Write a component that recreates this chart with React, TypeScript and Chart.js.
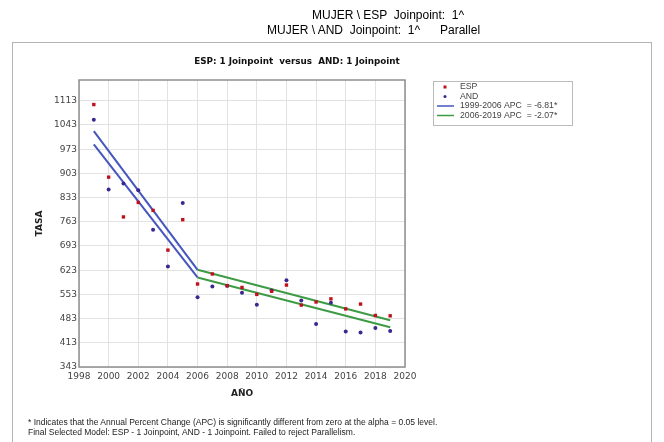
import { useEffect, useRef } from "react";
import { Chart, registerables } from "chart.js";

Chart.register(...registerables);

// Observed mortality rates per year
const YEARS = [1999, 2000, 2001, 2002, 2003, 2004, 2005, 2006, 2007, 2008, 2009, 2010, 2011, 2012, 2013, 2014, 2015, 2016, 2017, 2018, 2019];
const ESP_RATE = [1102, 892, 777, 819, 796, 681, 769, 583, 612, 578, 573, 553, 562, 580, 522, 531, 540, 511, 525, 492, 491];
const AND_RATE = [1058, 856, 874, 854, 740, 634, 817, 545, 576, 578, 558, 523, 564, 594, 535, 467, 529, 446, 443, 456, 447];

// Joinpoint model: start, joinpoint and end of each fitted trend
const JOIN_YEARS = [1999, 2006, 2019];
const ESP_FIT = [1025, 624, 478];
const AND_FIT = [987, 602, 458];

const X_TICKS = [1998, 2000, 2002, 2004, 2006, 2008, 2010, 2012, 2014, 2016, 2018, 2020];
const Y_TICKS = [343, 413, 483, 553, 623, 693, 763, 833, 903, 973, 1043, 1113];
const Y_MIN = 343;
const Y_MAX = 1173;

const SERIES_LABELS = ["ESP", "AND"];
const SEGMENT_LABELS = ["1999-2006 APC  = -6.81*", "2006-2019 APC  = -2.07*"];
const CHART_TITLE = "ESP: 1 Joinpoint  versus  AND: 1 Joinpoint";

const RED = "#c0101c";
const PURPLE = "#3a2790";
const BLUE = "#4556bd";
const GREEN = "#3e9b45";

const points = (xs: number[], ys: number[]) => xs.map((x, i) => ({ x, y: ys[i] }));

const overlay = {
  id: "overlay",
  afterDatasetsDraw(chart: any) {
    const { ctx, chartArea: a } = chart;
    ctx.save();
    // plot frame
    ctx.strokeStyle = "#8e8e8e";
    ctx.lineWidth = 1.5;
    ctx.strokeRect(a.left, a.top, a.right - a.left, a.bottom - a.top);

    // chart title
    ctx.fillStyle = "#111";
    ctx.font = "bold 8.8px 'DejaVu Sans'";
    ctx.textAlign = "center";
    ctx.textBaseline = "middle";
    ctx.fillText(CHART_TITLE, 297, 62);

    // legend
    const bx = 433.5, by = 81.5, bw = 139, bh = 44;
    ctx.fillStyle = "#fff";
    ctx.fillRect(bx, by, bw, bh);
    ctx.strokeStyle = "#bbb";
    ctx.lineWidth = 1;
    ctx.strokeRect(bx, by, bw, bh);
    ctx.font = "8.7px 'Liberation Sans'";
    ctx.textAlign = "left";
    const tx = 460, mx = 445;
    const rows = [87, 96.5, 106, 115.5];
    ctx.fillStyle = RED;
    ctx.fillRect(mx - 1.5, rows[0] - 1.5, 3, 3);
    ctx.fillStyle = PURPLE;
    ctx.beginPath();
    ctx.arc(mx, rows[1], 1.5, 0, Math.PI * 2);
    ctx.fill();
    ctx.lineWidth = 1.5;
    [BLUE, GREEN].forEach((c, i) => {
      ctx.strokeStyle = c;
      ctx.beginPath();
      ctx.moveTo(437, rows[2 + i]);
      ctx.lineTo(454, rows[2 + i]);
      ctx.stroke();
    });
    ctx.fillStyle = "#444";
    ctx.fillText(SERIES_LABELS[0], tx, rows[0]);
    ctx.fillText(SERIES_LABELS[1], tx, rows[1]);
    ctx.fillText(SEGMENT_LABELS[0], tx, rows[2]);
    ctx.fillText(SEGMENT_LABELS[1], tx, rows[3]);
    ctx.restore();
  },
};

function JoinpointChart() {
  const ref = useRef<HTMLCanvasElement>(null);
  useEffect(() => {
    if (!ref.current) return;
    const fitLine = (ys: number[], from: number, to: number, color: string) => ({
      type: "line" as const,
      data: points(JOIN_YEARS.slice(from, to + 1), ys.slice(from, to + 1)),
      borderColor: color,
      borderWidth: 2,
      pointRadius: 0,
      showLine: true,
      fill: false,
    });
    const chart = new Chart(ref.current, {
      type: "scatter",
      data: {
        datasets: [
          {
            label: SERIES_LABELS[0],
            data: points(YEARS, ESP_RATE),
            pointStyle: "rect",
            pointRadius: 2.4,
            backgroundColor: RED,
            borderWidth: 0,
          },
          {
            label: SERIES_LABELS[1],
            data: points(YEARS, AND_RATE),
            pointStyle: "circle",
            pointRadius: 2,
            backgroundColor: PURPLE,
            borderWidth: 0,
          },
          fitLine(ESP_FIT, 0, 1, BLUE),
          fitLine(AND_FIT, 0, 1, BLUE),
          fitLine(ESP_FIT, 1, 2, GREEN),
          fitLine(AND_FIT, 1, 2, GREEN),
        ] as any,
      },
      options: {
        animation: false,
        responsive: false,
        devicePixelRatio: 1,
        layout: { padding: { left: 0, right: 259, top: 80, bottom: 43 } },
        plugins: { legend: { display: false }, title: { display: false }, tooltip: { enabled: false } },
        scales: {
          x: {
            type: "linear",
            min: 1998,
            max: 2020,
            afterBuildTicks: (s: any) => { s.ticks = X_TICKS.map((value) => ({ value })); },
            afterFit: (s: any) => { s.height = 32; },
            grid: { color: "#e2e2e2", drawTicks: false },
            border: { display: false },
            ticks: {
              padding: 4,
              color: "#444",
              font: { family: "'DejaVu Sans'", size: 9 },
              callback: (v: any) => String(v),
              maxRotation: 0,
              autoSkip: false,
            },
            title: {
              display: true,
              text: "AÑO",
              color: "#222",
              font: { family: "'DejaVu Sans'", size: 9, weight: "bold" },
              padding: { top: 0, bottom: 0 },
            },
          },
          y: {
            type: "linear",
            min: Y_MIN,
            max: Y_MAX,
            afterBuildTicks: (s: any) => { s.ticks = Y_TICKS.map((value) => ({ value })); },
            afterFit: (s: any) => { s.width = 79; },
            grid: { color: "#e2e2e2", drawTicks: false },
            border: { display: false },
            ticks: {
              padding: 2,
              color: "#444",
              font: { family: "'DejaVu Sans'", size: 9 },
              callback: (v: any) => String(v),
              autoSkip: false,
            },
            title: {
              display: true,
              text: "TASA",
              color: "#222",
              font: { family: "'DejaVu Sans'", size: 9, weight: "bold" },
              padding: { top: 34, bottom: 0 },
            },
          },
        },
      } as any,
      plugins: [overlay],
    });
    return () => chart.destroy();
  }, []);
  return <canvas ref={ref} width={664} height={442} style={{ position: "absolute", left: 0, top: 0, width: 664, height: 442 }} />;
}

export default function App() {
  const sans = "'Liberation Sans', Arial, sans-serif";
  return (
    <div style={{ position: "fixed", left: 0, top: 0, width: 664, height: 442, background: "#fff", overflow: "hidden", fontFamily: sans }}>
      <div style={{ position: "absolute", left: 12, top: 42, width: 640, height: 420, border: "1px solid #b3b3b3", boxSizing: "border-box" }} />
      <JoinpointChart />
      <div style={{ position: "absolute", left: 312, top: 8, fontSize: 12, lineHeight: "14px", whiteSpace: "pre", color: "#000" }}>
        {"MUJER \\ ESP  Joinpoint:  1^"}
      </div>
      <div style={{ position: "absolute", left: 267, top: 23, fontSize: 12, lineHeight: "14px", whiteSpace: "pre", color: "#000" }}>
        {"MUJER \\ AND  Joinpoint:  1^      Parallel"}
      </div>
      <div style={{ position: "absolute", left: 28, top: 417, fontSize: 8.5, lineHeight: "10px", whiteSpace: "pre", color: "#222" }}>
        {"* Indicates that the Annual Percent Change (APC) is significantly different from zero at the alpha = 0.05 level.\nFinal Selected Model: ESP - 1 Joinpoint, AND - 1 Joinpoint. Failed to reject Parallelism."}
      </div>
    </div>
  );
}
